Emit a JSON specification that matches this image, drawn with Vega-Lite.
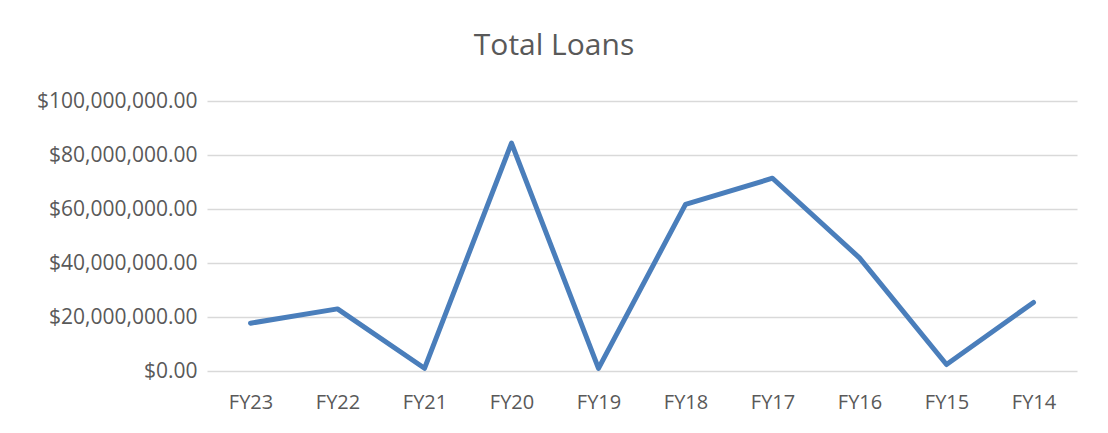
{
  "$schema": "https://vega.github.io/schema/vega-lite/v6.json",
  "autosize": {"type": "none"},
  "padding": {"left": 207, "top": 101, "right": 31, "bottom": 62},
  "width": 870,
  "height": 270,
  "background": "white",
  "title": {
    "text": "Total Loans",
    "font": "Open Sans",
    "fontSize": 30,
    "fontWeight": "normal",
    "color": "#595959",
    "anchor": "middle",
    "dx": -88,
    "offset": 29
  },
  "data": {
    "values": [
      {"year": "FY23", "loans": 17700000},
      {"year": "FY22", "loans": 23000000},
      {"year": "FY21", "loans": 1000000},
      {"year": "FY20", "loans": 84400000},
      {"year": "FY19", "loans": 1000000},
      {"year": "FY18", "loans": 61700000},
      {"year": "FY17", "loans": 71400000},
      {"year": "FY16", "loans": 41900000},
      {"year": "FY15", "loans": 2400000},
      {"year": "FY14", "loans": 25400000}
    ]
  },
  "mark": {"type": "line", "color": "#4a7ebb", "strokeWidth": 5, "strokeCap": "round", "strokeJoin": "round"},
  "encoding": {
    "x": {
      "field": "year",
      "type": "nominal",
      "sort": null,
      "scale": {"type": "point", "padding": 0.5},
      "axis": {
        "title": null,
        "labelAngle": 0,
        "domain": false,
        "ticks": false,
        "grid": false,
        "labelFont": "Open Sans",
        "labelFontSize": 20,
        "labelColor": "#595959",
        "labelPadding": 21
      }
    },
    "y": {
      "field": "loans",
      "type": "quantitative",
      "scale": {"domain": [0, 100000000]},
      "axis": {
        "title": null,
        "values": [0, 20000000, 40000000, 60000000, 80000000, 100000000],
        "format": "$,.2f",
        "domain": false,
        "ticks": false,
        "grid": true,
        "gridColor": "#d9d9d9",
        "gridWidth": 1.3,
        "labelFont": "Open Sans",
        "labelFontSize": 21,
        "labelColor": "#595959",
        "labelPadding": 10
      }
    }
  },
  "config": {"view": {"stroke": null}}
}
